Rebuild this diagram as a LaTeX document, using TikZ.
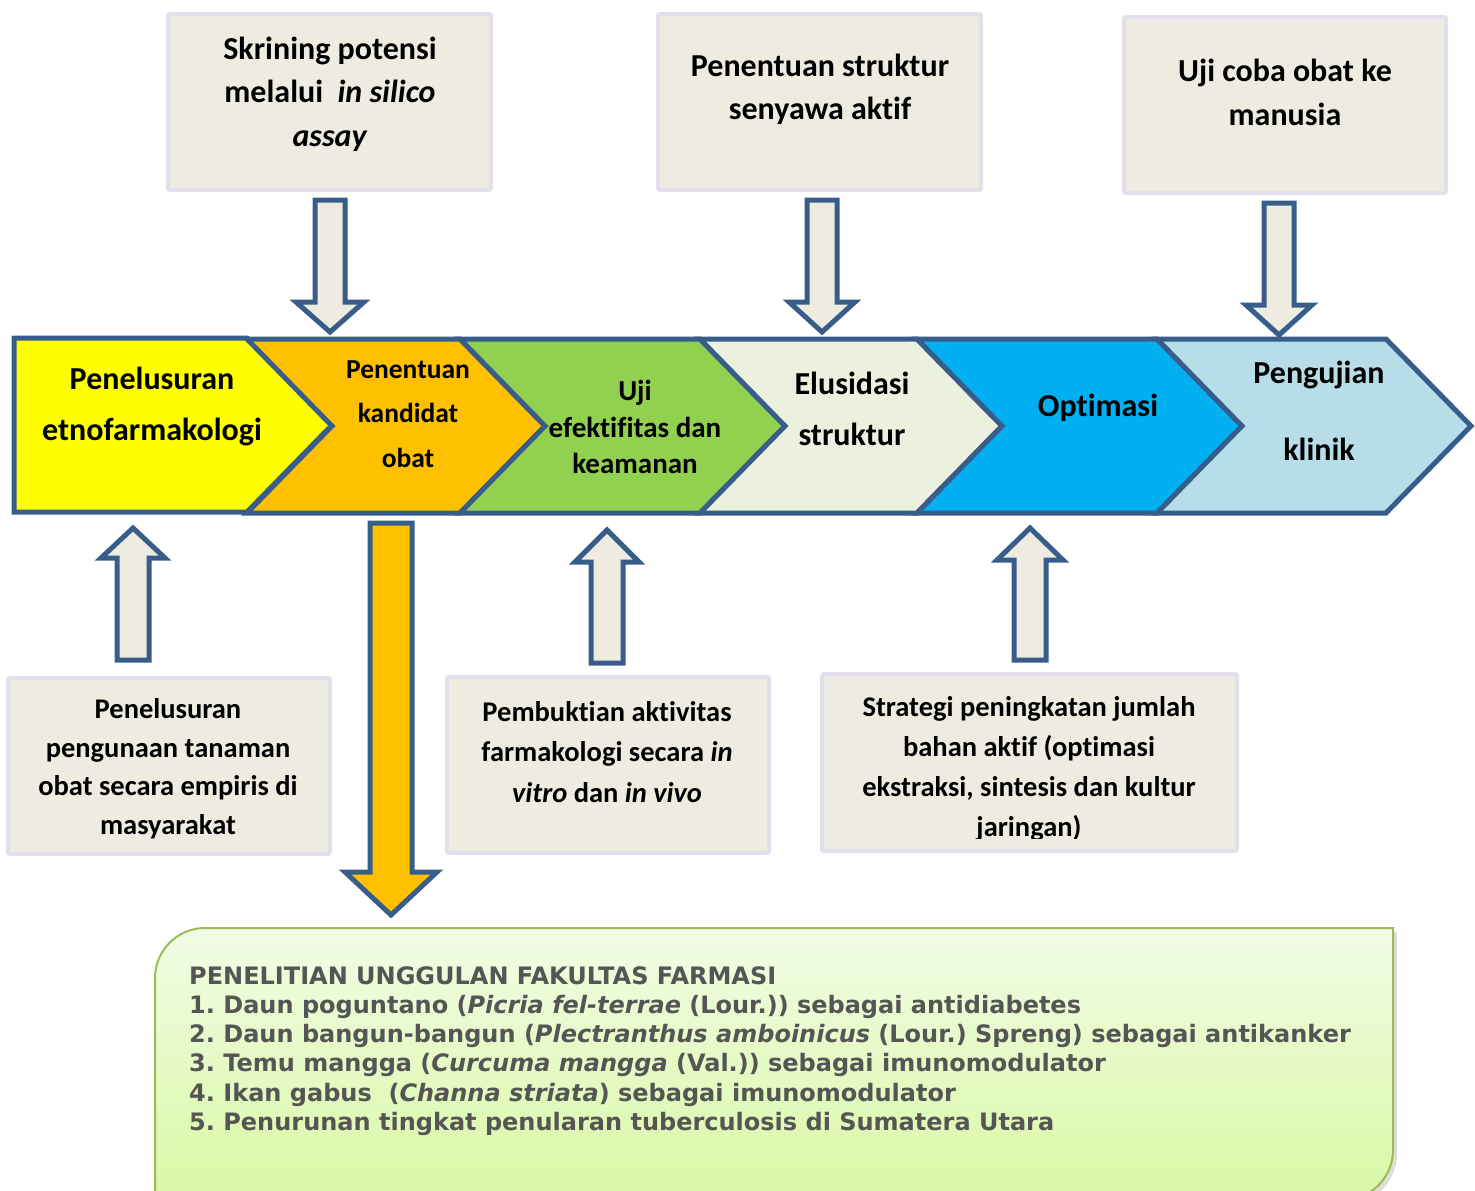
\documentclass[tikz,border=0pt]{standalone}
\usepackage{fontspec}
\setmainfont{Carlito}[Ligatures=NoCommon]
\newfontfamily\listfont{DejaVu Sans}
\usepackage{tikz}
\usetikzlibrary{shapes.geometric, arrows}
\frenchspacing

\definecolor{stageline}{HTML}{385D8A}
\definecolor{boxfill}{HTML}{EEECE1}
\definecolor{boxline}{HTML}{E4DFEC}
\definecolor{stageyellow}{HTML}{FFFF00}
\definecolor{stageorange}{HTML}{FFC000}
\definecolor{stagegreen}{HTML}{92D050}
\definecolor{stagepale}{HTML}{EBF1DE}
\definecolor{stageblue}{HTML}{00B0F0}
\definecolor{stagesky}{HTML}{B7DEE8}
\definecolor{listtop}{HTML}{F2FCE6}
\definecolor{listbottom}{HTML}{D8F8A2}
\definecolor{listline}{HTML}{9BBB59}
\definecolor{listtext}{HTML}{555555}

\tikzstyle{stage} = [draw=stageline, line width=5pt, line join=miter]
\tikzstyle{blockarrow} = [draw=stageline, line width=5pt, line join=miter]
\tikzstyle{infobox} = [rectangle, draw=boxline, fill=boxfill, line width=4pt, rounded corners=2pt]
\tikzstyle{stagetext} = [align=center, text=black, font=\bfseries\fontsize{32pt}{51pt}\selectfont]
\tikzstyle{boxtext} = [align=center, text=black, font=\bfseries\fontsize{32pt}{43.5pt}\selectfont]
\tikzstyle{lowtext} = [align=center, text=black, font=\bfseries\fontsize{28.5pt}{39pt}\selectfont]

% chevron: fill, left x, right x (tip 85 further)
\newcommand{\stageshape}[3]{\path[stage, fill=#1] (#2,339) -- (#3,339) -- ({#3+85},426) -- (#3,513) -- (#2,513) -- ({#2+85},426) -- cycle;}
% block arrows: fill, x, tail y, head y, tip y, half shaft, half head
\newcommand{\blockdown}[7]{\path[blockarrow, fill=#1] ({#2-#6},#3) -- ({#2+#6},#3) -- ({#2+#6},#4) -- ({#2+#7},#4) -- (#2,#5) -- ({#2-#7},#4) -- ({#2-#6},#4) -- cycle;}

\begin{document}
\begin{tikzpicture}[x=1pt, y=-1pt]
	\clip (0,0) rectangle (1475,1191);

	% stages
	\path[stage, fill=stageyellow] (14,338) -- (247,338) -- (332,425) -- (247,512) -- (14,512) -- cycle;
	\stageshape{stageorange}{247}{460}
	\stageshape{stagegreen}{460}{700}
	\stageshape{stagepale}{700}{917}
	\stageshape{stageblue}{917}{1157}
	\stageshape{stagesky}{1157}{1386}

	\node (etno) [stagetext] at (152,406) {Penelusuran\\etnofarmakologi};
	\node (kandidat) [stagetext, font=\bfseries\fontsize{27.5pt}{44.5pt}\selectfont] at (408,414) {Penentuan\\kandidat\\obat};
	\node (efektif) [stagetext, font=\bfseries\fontsize{29pt}{36.5pt}\selectfont] at (635,427) {Uji\\efektifitas dan\\keamanan};
	\node (elusidasi) [stagetext] at (852,408.5) {Elusidasi\\struktur};
	\node (optimasi) [stagetext] at (1098,408) {Optimasi};
	\node (klinik) [stagetext, font=\bfseries\fontsize{32pt}{77pt}\selectfont] at (1319,410.5) {Pengujian\\klinik};

	% upper boxes
	\node (skrining) [infobox, minimum width=323, minimum height=176] at (329.5,102) {};
	\node (skriningtxt) [boxtext] at (330,94) {Skrining potensi\\melalui~ \textit{in silico}\\\textit{assay}};
	\node (struktur) [infobox, minimum width=323, minimum height=176] at (819.5,102) {};
	\node (strukturtxt) [boxtext] at (820,89.5) {Penentuan struktur\\senyawa aktif};
	\node (manusia) [infobox, minimum width=322, minimum height=176] at (1285,105) {};
	\node (manusiatxt) [boxtext] at (1285,92.5) {Uji coba obat ke\\manusia};

	\blockdown{boxfill}{330}{200}{302}{332}{15}{34}
	\blockdown{boxfill}{822}{200}{302}{332}{15}{33}
	\blockdown{boxfill}{1279}{203}{305}{335}{15}{33}

	% lower boxes
	\node (empiris) [infobox, minimum width=322, minimum height=176] at (169,766) {};
	\node (empiristxt) [lowtext, font=\bfseries\fontsize{28.5pt}{38.5pt}\selectfont] at (168,768.5) {Penelusuran\\pengunaan tanaman\\obat secara empiris di\\masyarakat};
	\node (pembuktian) [infobox, minimum width=322, minimum height=176] at (608,765) {};
	\node (pembuktiantxt) [lowtext, font=\bfseries\fontsize{28.5pt}{40.5pt}\selectfont] at (607,752) {Pembuktian aktivitas\\farmakologi secara \textit{in}\\\textit{vitro} dan \textit{in vivo}};
	\node (strategi) [infobox, minimum width=415, minimum height=177] at (1029.5,762.5) {};
	\begin{scope}
		\clip (824,676) rectangle (1235,838);
		\node (strategitxt) [lowtext, font=\bfseries\fontsize{28.5pt}{40pt}\selectfont] at (1029,769) {Strategi peningkatan jumlah\\bahan aktif (optimasi\\ekstraksi, sintesis dan kultur\\jaringan)};
	\end{scope}

	% up arrows
	\blockdown{boxfill}{133}{660}{558}{528}{16}{32}
	\blockdown{boxfill}{607}{663}{562}{530}{16}{32}
	\blockdown{boxfill}{1030}{660}{560}{528}{16}{33}

	% big arrow to the list
	\blockdown{stageorange}{391}{523}{872}{915}{21}{46}

	% result panel
	\fill[gray!45, opacity=.6] (159,1212) -- (159,982) arc[start angle=180, end angle=270, radius=50] -- (1397,932) -- (1397,1154) arc[start angle=0, end angle=90, radius=50] -- cycle;
	\path[draw=listline, line width=2pt, top color=listtop, bottom color=listbottom] (155,1208) -- (155,978) arc[start angle=180, end angle=270, radius=50] -- (1393,928) -- (1393,1150) arc[start angle=0, end angle=90, radius=50] -- cycle;
	\node (unggulan) [anchor=north west, align=left, text=listtext, inner sep=0, font=\listfont\bfseries\fontsize{24pt}{29.3pt}\selectfont] at (189,966) {PENELITIAN UNGGULAN FAKULTAS FARMASI\\
1. Daun poguntano (\textit{Picria fel-terrae} (Lour.)) sebagai antidiabetes\\
2. Daun bangun-bangun (\textit{Plectranthus amboinicus} (Lour.) Spreng) sebagai antikanker\\
3. Temu mangga (\textit{Curcuma mangga} (Val.)) sebagai imunomodulator\\
4. Ikan gabus~ (\textit{Channa striata}) sebagai imunomodulator\\
5. Penurunan tingkat penularan tuberculosis di Sumatera Utara};
\end{tikzpicture}
\end{document}
